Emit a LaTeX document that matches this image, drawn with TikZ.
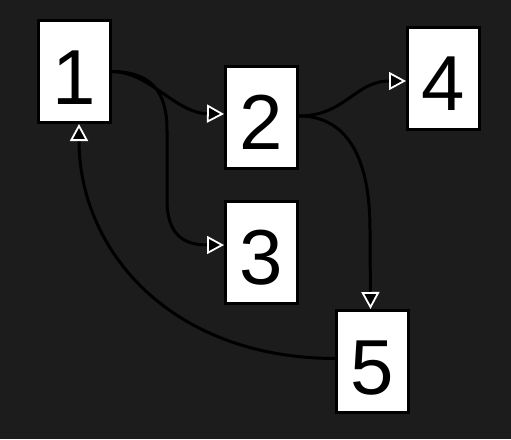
\documentclass[tikz,border=0pt]{standalone}
\usepackage{fontspec}
\setmainfont{Liberation Sans}
\usetikzlibrary{arrows.meta}
\definecolor{bgcol}{HTML}{1C1C1C}
\tikzset{
  box/.style={draw=black, fill=white, line width=3pt, minimum width=72pt, minimum height=102pt,
    inner sep=0pt, text height=65pt, text depth=0pt, font=\fontsize{78}{80}\selectfont},
  edge/.style={draw=black, line width=3pt,
    -{Triangle[length=17pt, width=18pt, color=white, fill=black, line width=1.8pt]}},
}
\begin{document}
\begin{tikzpicture}[x=1pt, y=-1pt]
\fill[bgcol] (0,0) rectangle (511,439);
\useasboundingbox (0,0) rectangle (511,439);
\node[box] (n1) at (74.5,71.5) {1};
\node[box] (n2) at (261.5,117) {2};
\node[box] (n3) at (261.5,252) {3};
\node[box] (n4) at (443.5,78) {4};
\node[box] (n5) at (372.5,361.5) {5};
\coordinate (a12) at ([yshift=3pt]n2.west);
\coordinate (a13) at ([yshift=7pt]n3.west);
\coordinate (a24) at ([yshift=-3pt]n4.west);
\coordinate (a25) at ([xshift=-2pt]n5.north);
\coordinate (a51) at ([xshift=4.5pt]n1.south);
\coordinate (s5) at ([yshift=3pt]n5.west);
\coordinate (s2) at ([yshift=1pt]n2.east);
\draw[edge] (n1.east) .. controls (150,72) and (175,113) .. (a12);
\draw[edge] (n1.east) .. controls (150,72) and (167,90) .. (167,130) -- (167,200) .. controls (167,236) and (185,245) .. (a13);
\draw[edge] (s2) .. controls (345,116) and (355,81) .. (a24);
\draw[edge] (s2) .. controls (335,116) and (370,140) .. (370,230) -- (a25);
\draw[edge] (s5) .. controls (170,358) and (79,250) .. (a51);
\end{tikzpicture}
\end{document}
